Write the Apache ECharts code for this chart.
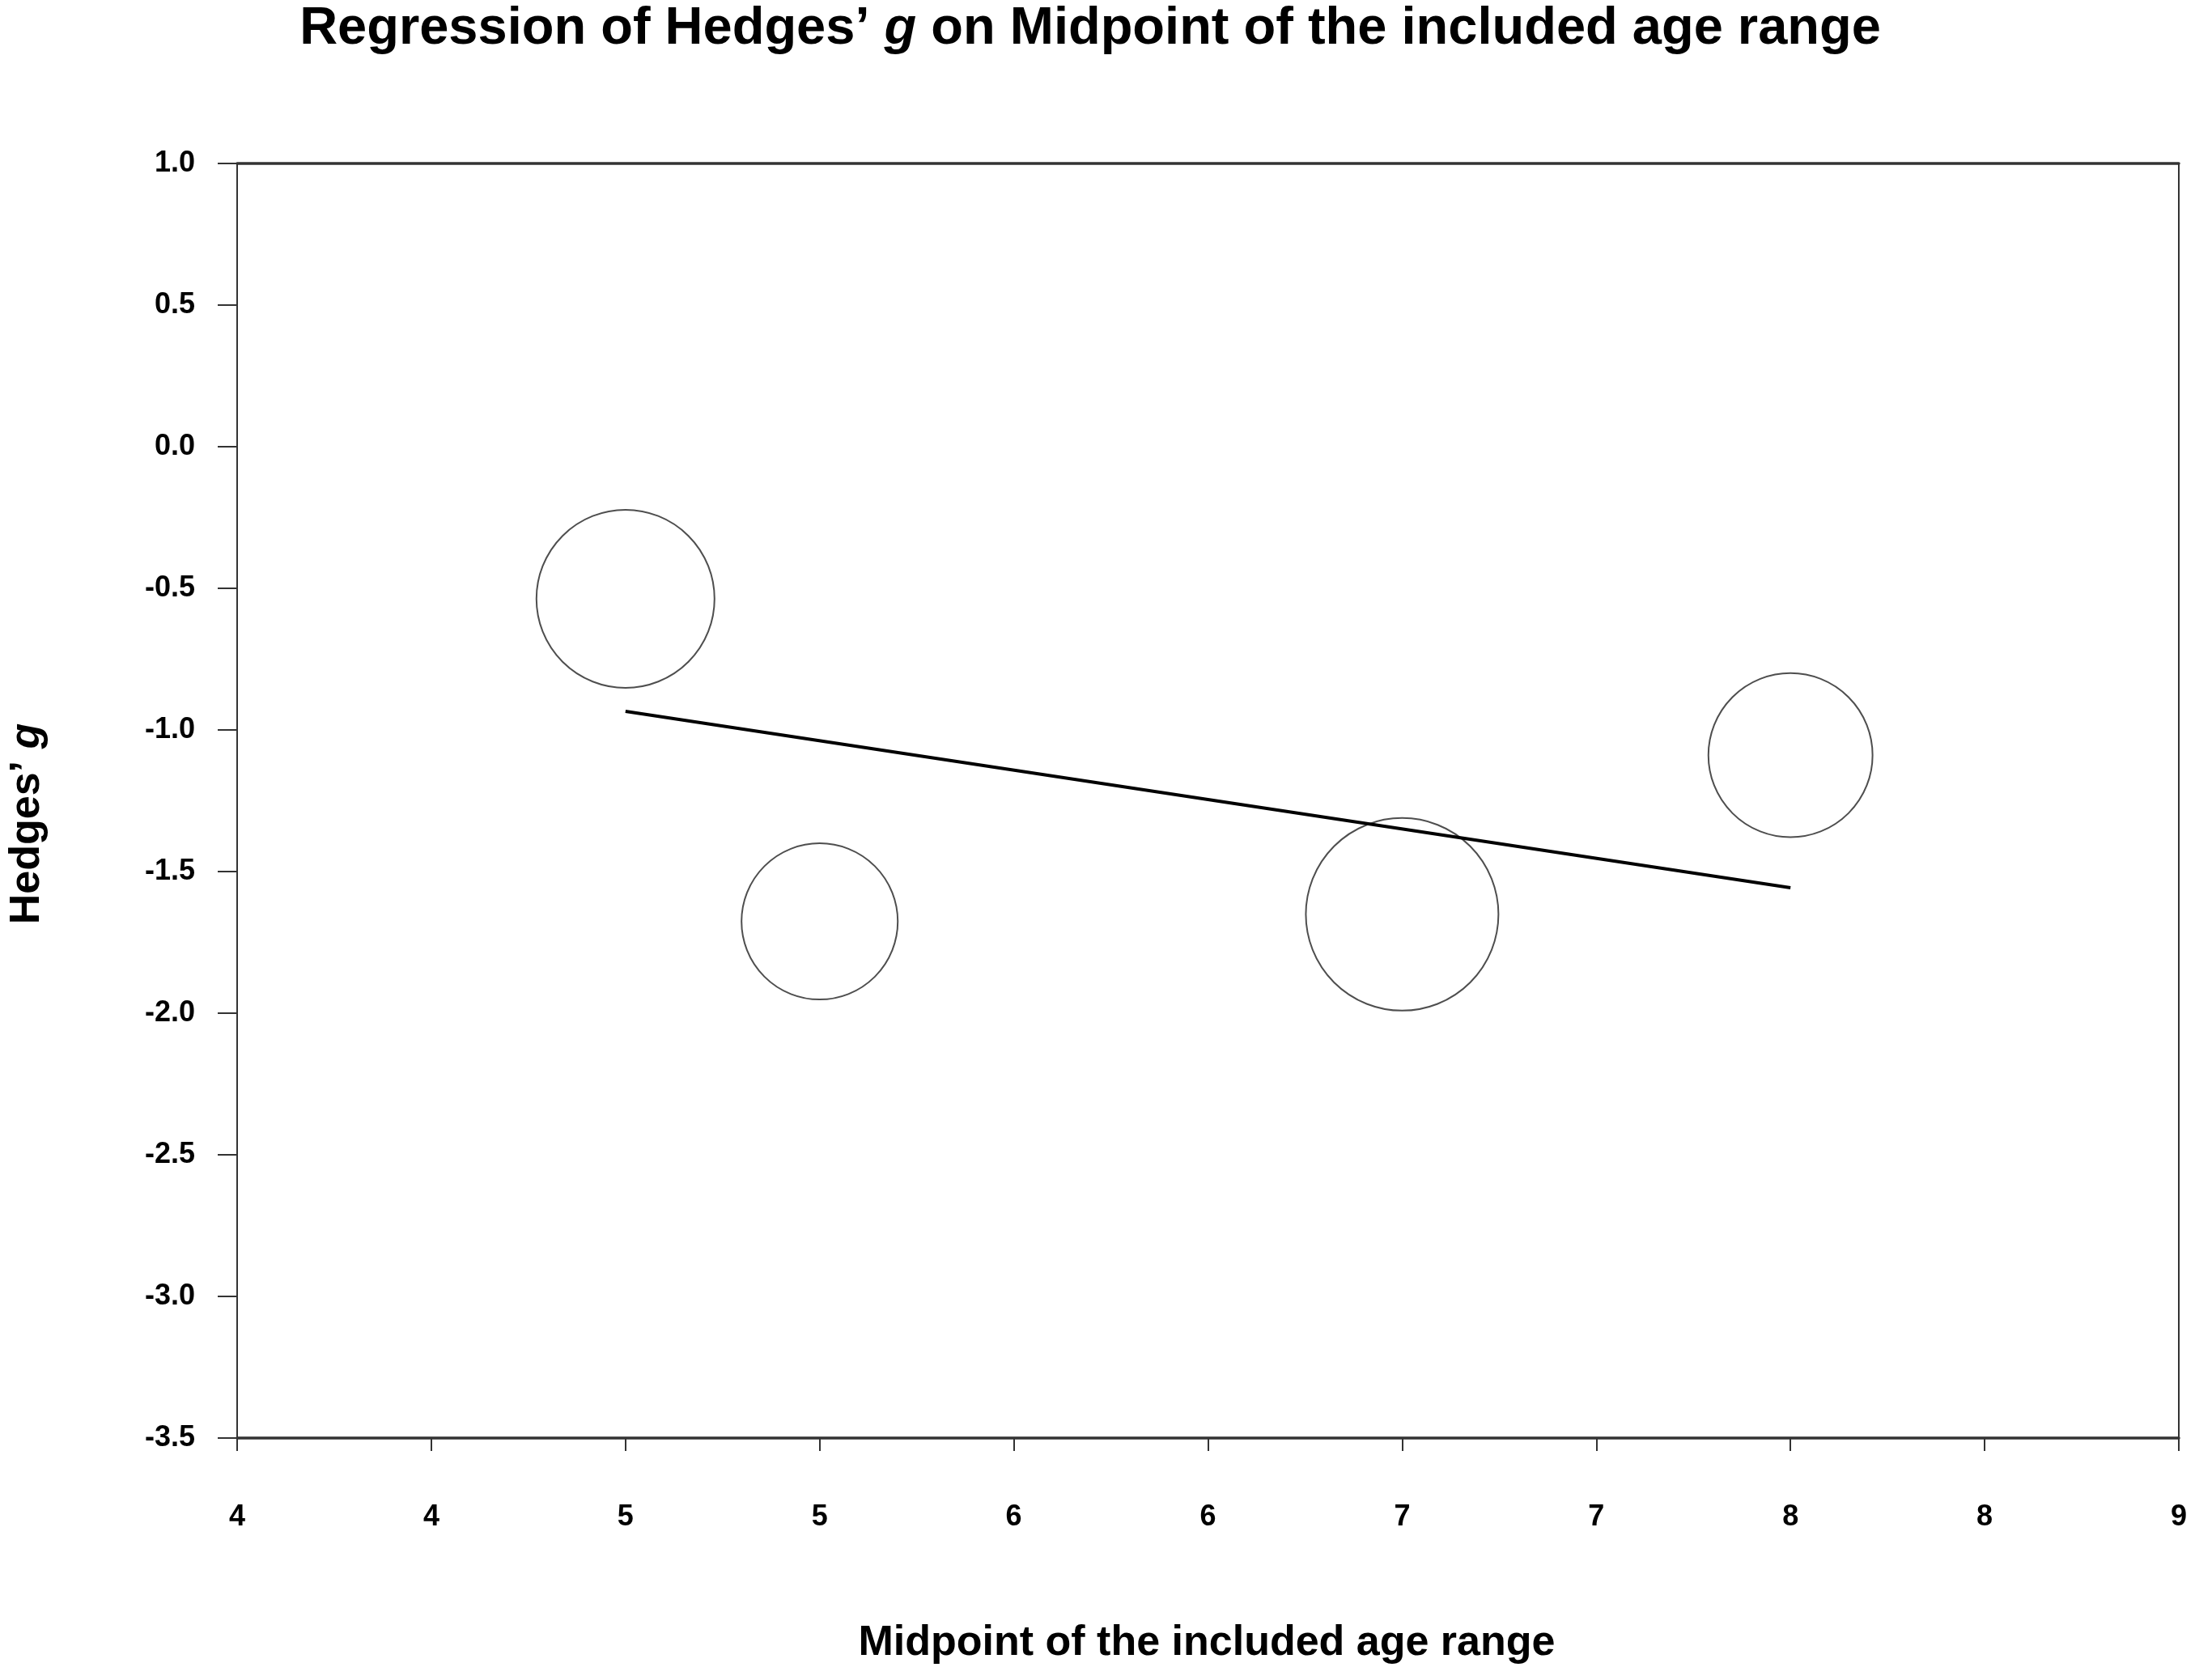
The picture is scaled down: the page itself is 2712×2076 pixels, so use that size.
<!DOCTYPE html>
<html>
<head>
<meta charset="utf-8">
<script src="https://cdn.jsdelivr.net/npm/echarts@6/dist/echarts.min.js"></script>
<style>
html,body{margin:0;padding:0;background:#fff;}
#chart{width:2712px;height:2076px;}
</style>
</head>
<body>
<div id="chart"></div>
<script>
// ---- data ----
const studyX = [5.0, 5.5, 7.0, 8.0];          // midpoint of included age range
const studyG = [-0.537, -1.676, -1.651, -1.089]; // Hedges' g
const studyWeight = [1.00, 0.77, 1.17, 0.85];   // relative study weight (circle area)
const regX = [5.0, 8.0];
const regG = [-0.934, -1.557];
const xTickLabels = ['4','4','5','5','6','6','7','7','8','8','9'];
const yTickValues = [1.0, 0.5, 0.0, -0.5, -1.0, -1.5, -2.0, -2.5, -3.0, -3.5];

const FONT = '"Liberation Sans", Arial, sans-serif';
const chart = echarts.init(document.getElementById('chart'), null, {renderer:'canvas'});

const points = studyX.map((x, i) => [x, studyG[i], studyWeight[i]]);
const regLine = regX.map((x, i) => [x, regG[i]]);

const option = {
  backgroundColor: '#ffffff',
  animation: false,
  grid: {left: 293, right: 20, top: 202, bottom: 299, containLabel: false},
  xAxis: [{
    type: 'value', min: 4, max: 9, interval: 0.5, position: 'bottom',
    axisLine: {show: true, onZero: false, lineStyle: {color: '#333', width: 3.5}},
    axisTick: {show: true, inside: false, length: 16, lineStyle: {color: '#333', width: 2}},
    axisLabel: {
      margin: 80, color: '#000', fontFamily: FONT, fontWeight: 'bold', fontSize: 36,
      formatter: v => xTickLabels[Math.round((v - 4) / 0.5)]
    },
    splitLine: {show: false}
  }, {
    type: 'value', min: 4, max: 9, interval: 0.5, position: 'top',
    axisLine: {show: true, onZero: false, lineStyle: {color: '#333', width: 3.5}},
    axisTick: {show: false}, axisLabel: {show: false}, splitLine: {show: false}
  }],
  yAxis: [{
    type: 'value', min: -3.5, max: 1.0, interval: 0.5, position: 'left',
    axisLine: {show: true, onZero: false, lineStyle: {color: '#333', width: 2}},
    axisTick: {show: true, inside: false, length: 24, lineStyle: {color: '#333', width: 2}},
    axisLabel: {
      margin: 52, color: '#000', fontFamily: FONT, fontWeight: 'bold', fontSize: 36,
      formatter: v => {
        const t = yTickValues.find(t => Math.abs(t - v) < 1e-9);
        return (t === undefined ? v : t).toFixed(1);
      }
    },
    splitLine: {show: false}
  }, {
    type: 'value', min: -3.5, max: 1.0, interval: 0.5, position: 'right',
    axisLine: {show: true, onZero: false, lineStyle: {color: '#333', width: 2}},
    axisTick: {show: false}, axisLabel: {show: false}, splitLine: {show: false}
  }],
  series: [{
    type: 'scatter',
    xAxisIndex: 0, yAxisIndex: 0,
    data: points,
    symbol: 'circle',
    symbolSize: d => 220 * Math.sqrt(d[2]),
    itemStyle: {color: 'rgba(255,255,255,0)', borderColor: '#222', borderWidth: 2},
    emphasis: {disabled: true},
    z: 2
  }, {
    type: 'line',
    xAxisIndex: 0, yAxisIndex: 0,
    data: regLine,
    showSymbol: false, symbol: 'none',
    lineStyle: {color: '#000', width: 4},
    emphasis: {disabled: true},
    z: 3
  }],
  graphic: [{
    type: 'text', x: 1347, y: 36,
    style: {
      text: '{n|Regression of Hedges’ }{i|g}{n| on Midpoint of the included age range}',
      align: 'center', verticalAlign: 'middle',
      rich: {
        n: {fontFamily: FONT, fontWeight: 'bold', fontSize: 65, fill: '#000'},
        i: {fontFamily: FONT, fontWeight: 'bold', fontStyle: 'italic', fontSize: 65, fill: '#000'}
      }
    }
  }, {
    type: 'text', x: 1491, y: 2031,
    style: {
      text: 'Midpoint of the included age range',
      fontFamily: FONT, fontWeight: 'bold', fontSize: 52, fill: '#000',
      align: 'center', verticalAlign: 'middle'
    }
  }, {
    type: 'text', x: 34, y: 1018, rotation: Math.PI / 2,
    style: {
      text: '{n|Hedges’ }{i|g}',
      align: 'center', verticalAlign: 'middle',
      rich: {
        n: {fontFamily: FONT, fontWeight: 'bold', fontSize: 52, fill: '#000'},
        i: {fontFamily: FONT, fontWeight: 'bold', fontStyle: 'italic', fontSize: 52, fill: '#000'}
      }
    }
  }]
};
chart.setOption(option);
</script>
</body>
</html>
